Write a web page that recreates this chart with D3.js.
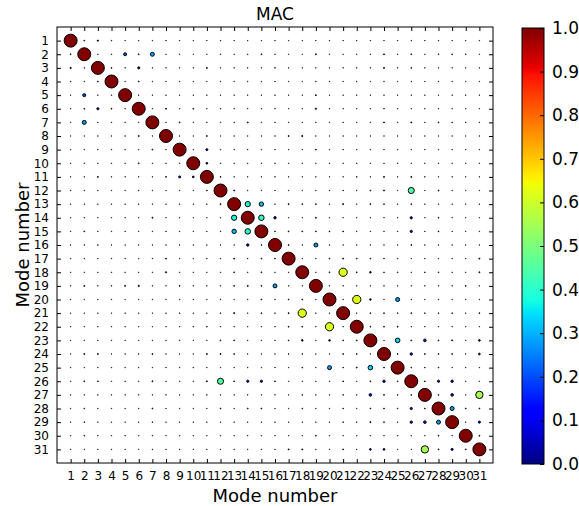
<!DOCTYPE html>
<html>
<head>
<meta charset="utf-8">
<script src="https://cdn.jsdelivr.net/npm/d3@7"></script>
<style>
  html, body { margin: 0; padding: 0; background: #fff; }
  svg { display: block; font-family: "DejaVu Sans", sans-serif; }
</style>
</head>
<body>
<svg id="chart" width="579" height="506"></svg>
<script>
// Mode labels along both axes
const modes = d3.range(1, 32);
// Colour-bar tick values
const colorTicks = [0, 0.1, 0.2, 0.3, 0.4, 0.5, 0.6, 0.7, 0.8, 0.9, 1.0];

// Faint background correlation level
const o = 0.005;
// MAC values, row = mode i, column = mode j
const macValues = [
  [1,.03,.06,.01,o,o,o,o,o,o, o,o,o,o,o,o,o,o,o,o, o,o,o,o,o,o,o,o,o,o, o],
  [.03,1,.01,.01,.2,.03,.28,o,o,o, o,.01,o,.01,.03,o,o,o,.04,o, o,o,o,.04,o,.03,o,.02,.02,.02, o],
  [.06,.01,1,.03,o,.13,o,o,o,o, .04,o,o,o,o,.015,o,o,o,o, o,o,o,.04,o,.03,o,o,o,o, o],
  [.01,.01,.03,1,o,.03,o,o,o,o, o,o,o,o,o,o,o,o,.01,o, o,o,o,o,o,o,o,o,o,o, o],
  [o,.2,o,o,1,o,o,o,o,o, o,o,o,o,o,o,o,o,.04,o, o,o,o,o,o,o,o,o,o,.01, o],
  [o,.03,.13,.03,o,1,o,.04,o,.03, o,.01,o,o,o,o,o,o,.06,o, o,o,o,.015,o,o,o,o,o,o, o],
  [o,.28,o,o,o,o,1,o,.035,o, o,o,o,.04,o,o,o,o,o,o, o,o,o,.04,o,.04,o,.03,.02,.01, o],
  [o,o,o,o,o,.04,o,1,o,o, .035,o,o,o,o,o,.04,.055,o,o, o,o,o,o,o,o,o,o,o,o, o],
  [o,o,o,o,o,o,.035,o,1,o, .12,o,o,o,o,o,o,o,.035,o, .01,o,o,o,o,o,o,o,o,o, o],
  [o,o,o,o,o,.03,o,o,o,1, .1,o,o,o,o,o,o,o,o,o, o,.01,o,o,.01,o,o,o,o,o, o],
  [o,o,.04,o,o,o,o,.035,.12,.1, 1,.03,o,o,o,o,o,o,o,o, o,.02,o,.04,o,.04,.01,o,o,o, o],
  [o,.01,o,o,o,.01,o,o,o,o, .03,1,.04,o,o,o,o,o,o,o, .015,o,.025,.045,o,.45,o,.03,o,o, o],
  [o,o,o,o,o,o,o,o,o,o, o,.04,1,.38,.31,o,.04,.03,.03,o, .045,o,.035,.03,o,.03,o,o,o,o, o],
  [o,.01,o,o,o,o,.04,o,o,o, o,o,.38,1,.4,.15,o,o,.04,o, o,o,o,o,o,.14,o,.03,o,o, o],
  [o,.03,o,o,o,o,o,o,o,o, o,o,.31,.4,1,.02,.03,.03,.03,.03, .03,o,o,o,o,.14,o,.03,o,o, o],
  [o,o,.015,o,o,o,o,o,o,o, o,o,o,.15,.02,1,.03,o,.28,o, o,o,o,o,o,.03,o,o,o,o, o],
  [o,o,o,o,o,o,o,.04,o,o, o,o,.04,o,.03,.03,1,o,o,.025, .04,.03,.025,.02,o,o,o,o,o,o, .04],
  [o,o,o,o,o,o,o,.055,o,o, o,o,.03,o,.03,o,o,1,o,.03, .62,.03,.09,.02,.02,o,.02,.02,o,o, .04],
  [o,.04,o,.01,.04,.06,o,o,.035,o, o,o,.03,.04,.03,.28,o,o,1,o, o,o,o,o,o,o,o,o,o,.03, o],
  [o,o,o,o,o,o,o,o,o,o, o,o,o,o,.03,o,.025,.03,o,1, o,.62,.09,o,.28,o,o,o,o,o, o],
  [o,o,o,o,o,o,o,o,.01,o, o,.015,.045,o,.03,o,.04,.62,o,o, 1,o,.03,.03,.02,.03,.02,.02,.02,o, .035],
  [o,o,o,o,o,o,o,o,o,.01, .02,o,o,o,o,o,.03,.03,o,.62, o,1,.03,.03,.035,o,o,o,o,o, o],
  [o,o,o,o,o,o,o,o,o,o, o,.025,.035,o,o,o,.025,.09,o,.09, .03,.03,1,o,.33,.03,.17,.03,.045,o, .1],
  [o,.04,.04,o,o,.015,.04,o,o,o, .04,.045,.03,o,o,o,.02,.02,o,o, .03,.03,o,1,.03,.15,.03,.03,.03,o, .1],
  [o,o,o,o,o,o,o,o,o,.01, o,o,o,o,o,o,o,.02,o,.28, .02,.035,.33,.03,1,.02,.02,.02,o,o, o],
  [o,.03,.03,o,o,o,.04,o,o,o, .04,.45,.03,.14,.14,.03,o,o,o,o, .03,o,.03,.15,.02,1,.03,.14,.15,o, o],
  [o,o,o,o,o,o,o,o,o,o, .01,o,o,o,o,o,o,.02,o,o, .02,o,.17,.03,.02,.03,1,.03,.17,o, .55],
  [o,.02,o,o,o,o,.03,o,o,o, o,.03,o,.03,.03,o,o,.02,o,o, .02,o,.03,.03,.02,.14,.03,1,.28,.03, .03],
  [o,.02,o,o,o,o,.02,o,o,o, o,o,o,o,o,o,o,o,o,o, .02,o,.045,.03,o,.15,.17,.28,1,o, .13],
  [o,.02,o,o,.01,o,.01,o,o,o, o,o,o,o,o,o,o,o,.03,o, o,o,o,o,o,o,o,.03,o,1, .035],
  [o,o,o,o,o,o,o,o,o,o, o,o,o,o,o,o,.04,.04,o,o, .035,o,.1,.1,o,o,.55,.03,.13,.035, 1]
];

// Matplotlib "jet" colormap, channel by channel
const jetR = d3.scaleLinear().domain([0, .35, .66, .89, 1]).range([0, 0, 1, 1, .5]).clamp(true);
const jetG = d3.scaleLinear().domain([0, .125, .375, .64, .91, 1]).range([0, 0, 1, 1, 0, 0]).clamp(true);
const jetB = d3.scaleLinear().domain([0, .11, .34, .65, 1]).range([.5, 1, 1, 0, 0]).clamp(true);
const jet = v => d3.rgb(jetR(v) * 255, jetG(v) * 255, jetB(v) * 255).toString();

const svg = d3.select("#chart");
const plot = { left: 57, top: 27, right: 493, bottom: 463 };

const x = d3.scaleLinear().domain([0, 32]).range([plot.left, plot.right]);
const y = d3.scaleLinear().domain([0, 32]).range([plot.top, plot.bottom]);
const radius = d3.scaleLinear().domain([0, 1]).range([0.25, 6.5]);

// Frame
svg.append("rect")
  .attr("x", plot.left).attr("y", plot.top)
  .attr("width", plot.right - plot.left).attr("height", plot.bottom - plot.top)
  .attr("fill", "none").attr("stroke", "#000").attr("stroke-width", 1);

// Axes with inward ticks on all four sides
const tickLen = 4;
const axB = d3.axisBottom(x).tickValues(modes).tickSizeInner(-tickLen).tickSizeOuter(0).tickPadding(8);
const axT = d3.axisTop(x).tickValues(modes).tickSizeInner(-tickLen).tickSizeOuter(0).tickFormat("");
const axL = d3.axisLeft(y).tickValues(modes).tickSizeInner(-tickLen).tickSizeOuter(0).tickPadding(8);
const axR = d3.axisRight(y).tickValues(modes).tickSizeInner(-tickLen).tickSizeOuter(0).tickFormat("");

function styleAxis(g) {
  g.select(".domain").remove();
  g.selectAll(".tick line").attr("stroke", "#000").attr("stroke-width", 1);
  g.selectAll(".tick text").attr("fill", "#000").style("font-size", "12px").style("font-family", "DejaVu Sans");
}
svg.append("g").attr("transform", `translate(0,${plot.bottom})`).call(axB).call(styleAxis);
svg.append("g").attr("transform", `translate(0,${plot.top})`).call(axT).call(styleAxis);
svg.append("g").attr("transform", `translate(${plot.left},0)`).call(axL).call(styleAxis);
svg.append("g").attr("transform", `translate(${plot.right},0)`).call(axR).call(styleAxis);

// MAC bubbles: size and colour from the value
const cells = [];
macValues.forEach((row, i) => row.forEach((v, j) => cells.push({ i: i + 1, j: j + 1, v })));
cells.sort((a, b) => a.v - b.v);

svg.append("g").selectAll("circle")
  .data(cells)
  .join("circle")
  .attr("cx", d => x(d.j))
  .attr("cy", d => y(d.i))
  .attr("r", d => radius(d.v))
  .attr("fill", d => jet(d.v))
  .attr("stroke", "#000")
  .attr("stroke-width", 1);

// Titles
svg.append("text").attr("x", (plot.left + plot.right) / 2).attr("y", 20)
  .attr("text-anchor", "middle").style("font-size", "17px").text("MAC");
svg.append("text").attr("x", (plot.left + plot.right) / 2).attr("y", 502)
  .attr("text-anchor", "middle").style("font-size", "18px").text("Mode number");
svg.append("text")
  .attr("transform", `translate(29,${(plot.top + plot.bottom) / 2}) rotate(-90)`)
  .attr("text-anchor", "middle").style("font-size", "18px").text("Mode number");

// Colour bar
const cb = { x: 522, w: 22, top: 28, bottom: 464 };
const cy = d3.scaleLinear().domain([0, 1]).range([cb.bottom, cb.top]);
const defs = svg.append("defs");
const grad = defs.append("linearGradient").attr("id", "jetGrad")
  .attr("x1", 0).attr("y1", 1).attr("x2", 0).attr("y2", 0);
d3.range(0, 1.0001, 0.01).forEach(t => {
  grad.append("stop").attr("offset", t).attr("stop-color", jet(t));
});
svg.append("rect").attr("x", cb.x).attr("y", cb.top).attr("width", cb.w).attr("height", cb.bottom - cb.top)
  .attr("fill", "url(#jetGrad)").attr("stroke", "#000").attr("stroke-width", 1);

const cbAxis = d3.axisRight(cy).tickValues(colorTicks).tickFormat(d3.format(".1f"))
  .tickSizeInner(-tickLen).tickSizeOuter(0).tickPadding(8);
svg.append("g").attr("transform", `translate(${cb.x + cb.w},0)`).call(cbAxis)
  .call(g => {
    g.select(".domain").remove();
    g.selectAll(".tick line").attr("stroke", "#000");
    g.selectAll(".tick text").attr("fill", "#000").style("font-size", "17px").style("font-family", "DejaVu Sans");
  });
</script>
</body>
</html>
